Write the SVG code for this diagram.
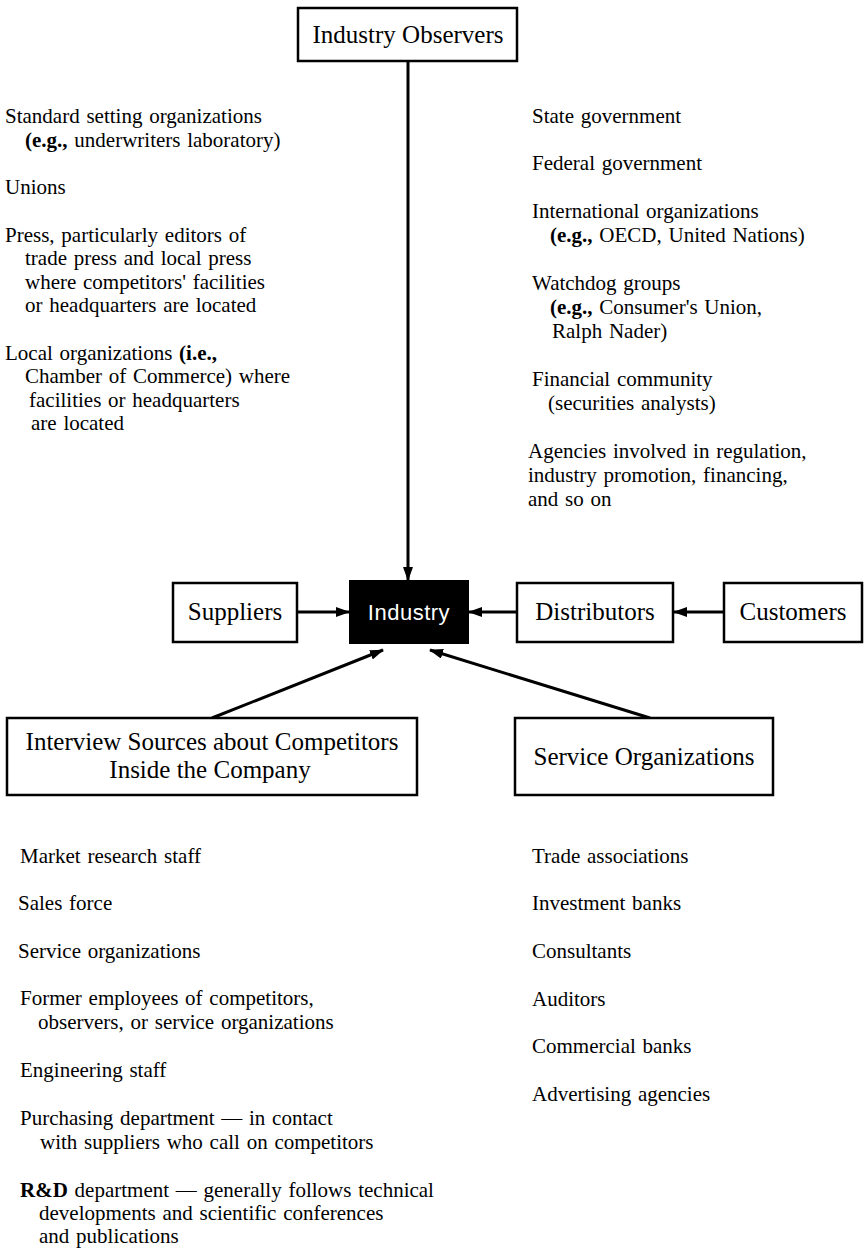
<svg xmlns="http://www.w3.org/2000/svg" width="868" height="1250" viewBox="0 0 868 1250">
<defs>
<marker id="ah" viewBox="0 0 14 10" refX="13" refY="5" markerWidth="14" markerHeight="10" markerUnits="userSpaceOnUse" orient="auto">
<path d="M0,0 L14,5 L0,10 z" fill="#000"/>
</marker>
<style>
.box{fill:#fff;stroke:#000;stroke-width:2.5}
.lbl{font-family:"Liberation Serif","Times New Roman",serif;font-size:25px;fill:#000;text-anchor:middle}
.t{font-family:"Liberation Serif","Times New Roman",serif;font-size:21px;fill:#000;word-spacing:1.5px}
.b{font-weight:bold}
.c{stroke:#000;stroke-width:3;fill:none;marker-end:url(#ah)}
</style>
</defs>
<rect width="868" height="1250" fill="#fff"/>

<g id="connectors">
<line class="c" x1="408" y1="61" x2="408" y2="580"/>
<line class="c" x1="297" y1="612" x2="349" y2="612"/>
<line class="c" x1="517" y1="612" x2="469" y2="612"/>
<line class="c" x1="724" y1="612" x2="674" y2="612"/>
<line class="c" x1="212" y1="718" x2="383" y2="650"/>
<line class="c" x1="650" y1="718" x2="430" y2="650"/>
</g>

<g id="industry-observers">
<rect class="box" x="298" y="8" width="219" height="53"/>
<text class="lbl" x="408" y="43">Industry Observers</text>
</g>

<g id="suppliers">
<rect class="box" x="173" y="583" width="124" height="59"/>
<text class="lbl" x="235" y="620">Suppliers</text>
</g>

<g id="industry">
<rect x="350" y="581" width="118" height="62" fill="#000" stroke="#000" stroke-width="2"/>
<text x="409" y="620" text-anchor="middle" font-family="Liberation Sans, Arial, sans-serif" font-size="22" letter-spacing="0.5" fill="#fff">Industry</text>
</g>

<g id="distributors">
<rect class="box" x="517" y="583" width="156" height="59"/>
<text class="lbl" x="595" y="620">Distributors</text>
</g>

<g id="customers">
<rect class="box" x="724" y="583" width="138" height="59"/>
<text class="lbl" x="793" y="620">Customers</text>
</g>

<g id="interview-sources">
<rect class="box" x="7" y="718" width="410" height="77"/>
<text class="lbl" x="212" y="750">Interview Sources about Competitors</text>
<text class="lbl" x="210" y="778">Inside the Company</text>
</g>

<g id="service-organizations">
<rect class="box" x="515" y="718" width="258" height="77"/>
<text class="lbl" x="644" y="765">Service Organizations</text>
</g>

<g id="observers-left">
<text class="t" x="5" y="123">Standard setting organizations</text>
<text class="t" x="25" y="147"><tspan class="b">(e.g.,</tspan> underwriters laboratory)</text>
<text class="t" x="5" y="194">Unions</text>
<text class="t" x="5" y="242">Press, particularly editors of</text>
<text class="t" x="25" y="265">trade press and local press</text>
<text class="t" x="25" y="289">where competitors' facilities</text>
<text class="t" x="25" y="312">or headquarters are located</text>
<text class="t" x="5" y="360">Local organizations <tspan class="b">(i.e.,</tspan></text>
<text class="t" x="25" y="383">Chamber of Commerce) where</text>
<text class="t" x="29" y="407">facilities or headquarters</text>
<text class="t" x="31" y="430">are located</text>
</g>

<g id="observers-right">
<text class="t" x="532" y="123">State government</text>
<text class="t" x="532" y="170">Federal government</text>
<text class="t" x="532" y="218">International organizations</text>
<text class="t" x="550" y="242"><tspan class="b">(e.g.,</tspan> OECD, United Nations)</text>
<text class="t" x="532" y="290">Watchdog groups</text>
<text class="t" x="550" y="314"><tspan class="b">(e.g.,</tspan> Consumer's Union,</text>
<text class="t" x="552" y="338">Ralph Nader)</text>
<text class="t" x="532" y="386">Financial community</text>
<text class="t" x="548" y="410">(securities analysts)</text>
<text class="t" x="528" y="458">Agencies involved in regulation,</text>
<text class="t" x="528" y="482">industry promotion, financing,</text>
<text class="t" x="528" y="506">and so on</text>
</g>

<g id="interview-list">
<text class="t" x="20" y="863">Market research staff</text>
<text class="t" x="18" y="910">Sales force</text>
<text class="t" x="18" y="958">Service organizations</text>
<text class="t" x="20" y="1005">Former employees of competitors,</text>
<text class="t" x="38" y="1029">observers, or service organizations</text>
<text class="t" x="20" y="1077">Engineering staff</text>
<text class="t" x="20" y="1125">Purchasing department — in contact</text>
<text class="t" x="40" y="1149">with suppliers who call on competitors</text>
<text class="t" x="20" y="1197"><tspan class="b">R&amp;D</tspan> department — generally follows technical</text>
<text class="t" x="39" y="1220">developments and scientific conferences</text>
<text class="t" x="39" y="1243">and publications</text>
</g>

<g id="service-list">
<text class="t" x="532" y="863">Trade associations</text>
<text class="t" x="532" y="910">Investment banks</text>
<text class="t" x="532" y="958">Consultants</text>
<text class="t" x="532" y="1006">Auditors</text>
<text class="t" x="532" y="1053">Commercial banks</text>
<text class="t" x="532" y="1101">Advertising agencies</text>
</g>
</svg>
